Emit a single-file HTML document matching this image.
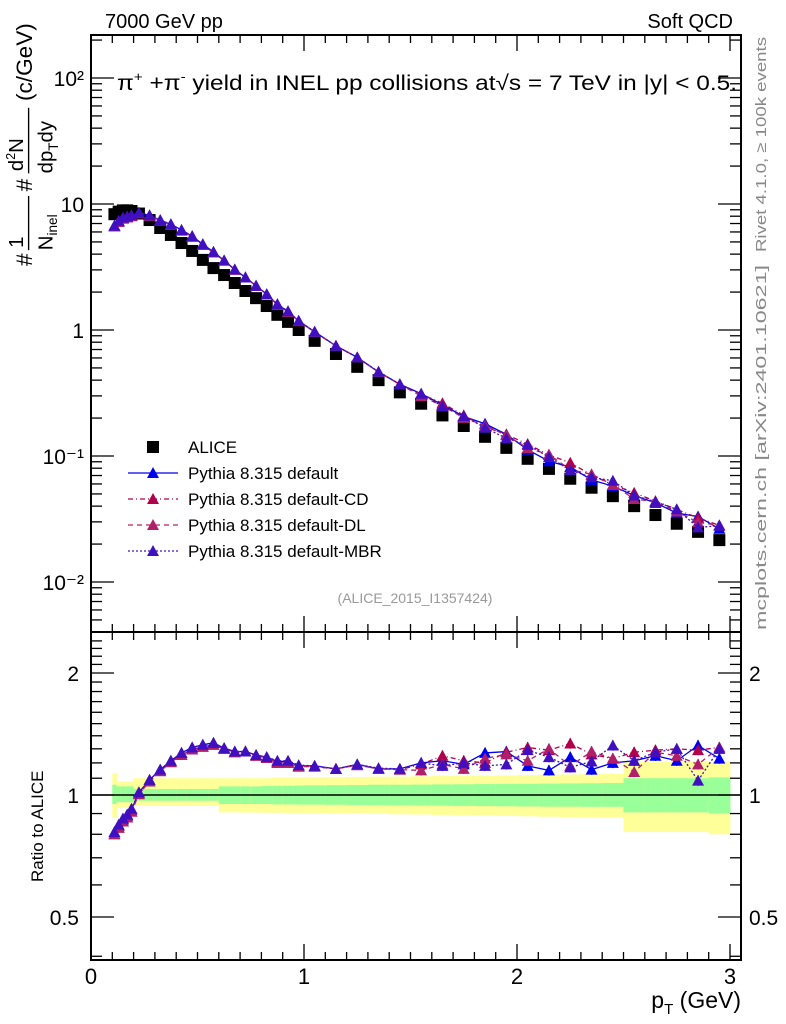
<!DOCTYPE html>
<html><head><meta charset="utf-8"><style>
body{margin:0;background:#fff}
svg{display:block;font-family:"Liberation Sans",sans-serif}
</style></head><body>
<svg id="c" width="786" height="1024" viewBox="0 0 786 1024">
<text x="105" y="28" font-size="20">7000 GeV pp</text>
<text x="733" y="28" font-size="20" text-anchor="end">Soft QCD</text>
<g id="ratioBands"></g>
<g id="plots"></g>
<g id="axes"></g>
<text x="117" y="90" font-size="21" textLength="620" lengthAdjust="spacingAndGlyphs">π<tspan font-size="13" dy="-9">+</tspan><tspan dy="9"> +π</tspan><tspan font-size="13" dy="-9">-</tspan><tspan dy="9"> yield in INEL pp collisions at√s =  7 TeV in |y| &lt; 0.5.</tspan></text>
<text x="415" y="603" font-size="14" fill="#999" text-anchor="middle">(ALICE_2015_I1357424)</text>
<text transform="translate(766,252) rotate(-90)" font-size="15" fill="#888" textLength="215" lengthAdjust="spacingAndGlyphs">Rivet 4.1.0, ≥ 100k events</text>
<text transform="translate(766,630) rotate(-90)" font-size="15" fill="#888" textLength="365" lengthAdjust="spacingAndGlyphs">mcplots.cern.ch [arXiv:2401.10621]</text>
<g transform="translate(32,266) scale(1.13) rotate(-90)" font-size="20">
<text x="0" y="0">#</text><text x="16" y="-8" font-size="18">1</text><line x1="14" y1="-3" x2="62" y2="-3" stroke="#000" stroke-width="1.2"/><text x="14" y="18" font-size="18">N<tspan font-size="12" dy="4">inel</tspan></text>
<text x="66" y="0">#</text><text x="84" y="-8" font-size="18">d<tspan font-size="11" dy="-7">2</tspan><tspan dy="7">N</tspan></text><line x1="82" y1="-3" x2="140" y2="-3" stroke="#000" stroke-width="1.2"/><text x="82" y="18" font-size="18">dp<tspan font-size="12" dy="5">T</tspan><tspan dy="-5">dy</tspan></text>
<text x="146" y="0">(c/GeV)</text></g>
<text transform="translate(43,882) rotate(-90)" font-size="17">Ratio to ALICE</text>
<text x="741" y="1008" font-size="23" text-anchor="end">p<tspan font-size="15" dy="6">T</tspan><tspan dy="-6"> (GeV)</tspan></text>
<g id="legend"></g>
</svg>
<script>
const pt=[0.11,0.13,0.15,0.17,0.19,0.225,0.275,0.325,0.375,0.425,0.475,0.525,0.575,0.625,0.675,0.725,0.775,0.825,0.875,0.925,0.975,1.05,1.15,1.25,1.35,1.45,1.55,1.65,1.75,1.85,1.95,2.05,2.15,2.25,2.35,2.45,2.55,2.65,2.75,2.85,2.95];
const edges=[0.1,0.12,0.14,0.16,0.18,0.2,0.25,0.3,0.35,0.4,0.45,0.5,0.55,0.6,0.65,0.7,0.75,0.8,0.85,0.9,0.95,1.0,1.1,1.2,1.3,1.4,1.5,1.6,1.7,1.8,1.9,2.0,2.1,2.2,2.3,2.4,2.5,2.6,2.7,2.8,2.9,3.0];
const alice=[8.3,8.7,8.9,8.9,8.8,8.4,7.46,6.45,5.68,4.9,4.24,3.6,3.1,2.73,2.36,2.04,1.79,1.55,1.32,1.16,1.0,0.82,0.645,0.51,0.40,0.32,0.26,0.21,0.173,0.142,0.116,0.095,0.079,0.066,0.056,0.048,0.040,0.034,0.029,0.025,0.0215];
const rDefault=[0.81,0.84,0.87,0.89,0.92,1.015,1.09,1.155,1.215,1.27,1.31,1.33,1.345,1.305,1.28,1.28,1.255,1.24,1.21,1.21,1.18,1.18,1.16,1.19,1.16,1.16,1.2,1.215,1.19,1.27,1.28,1.18,1.15,1.24,1.155,1.2,1.215,1.25,1.215,1.325,1.23];
const rCD=[0.8,0.83,0.86,0.88,0.91,1.005,1.08,1.145,1.205,1.255,1.295,1.315,1.33,1.3,1.275,1.28,1.25,1.235,1.2,1.2,1.175,1.175,1.16,1.185,1.16,1.155,1.19,1.25,1.215,1.2,1.275,1.31,1.29,1.34,1.26,1.23,1.275,1.29,1.3,1.29,1.31];
const rDL=[0.8,0.83,0.86,0.88,0.91,1.005,1.08,1.145,1.205,1.255,1.295,1.315,1.33,1.3,1.275,1.28,1.25,1.235,1.2,1.2,1.175,1.175,1.16,1.185,1.16,1.155,1.15,1.19,1.16,1.23,1.26,1.215,1.3,1.18,1.28,1.23,1.14,1.275,1.25,1.19,1.31];
const rMBR=[0.81,0.845,0.875,0.895,0.925,1.015,1.09,1.155,1.215,1.27,1.31,1.33,1.345,1.305,1.28,1.28,1.255,1.24,1.215,1.215,1.185,1.18,1.16,1.19,1.165,1.16,1.2,1.18,1.2,1.18,1.19,1.29,1.24,1.17,1.21,1.325,1.215,1.275,1.3,1.085,1.3];
const yelLo=[0.88,0.93,0.93,0.93,0.93,0.94,0.94,0.94,0.94,0.94,0.94,0.94,0.94,0.906,0.906,0.905,0.905,0.904,0.904,0.903,0.903,0.902,0.9,0.9,0.898,0.896,0.895,0.893,0.891,0.89,0.888,0.886,0.884,0.882,0.88,0.878,0.81,0.81,0.81,0.81,0.8];
const yelHi=[1.13,1.08,1.08,1.08,1.08,1.1,1.1,1.1,1.1,1.1,1.1,1.1,1.1,1.1,1.1,1.1,1.1,1.1,1.105,1.105,1.105,1.106,1.107,1.108,1.11,1.11,1.112,1.114,1.115,1.117,1.118,1.12,1.122,1.124,1.126,1.127,1.21,1.21,1.21,1.21,1.21];
const grnLo=[0.95,0.96,0.96,0.96,0.96,0.968,0.968,0.968,0.968,0.968,0.968,0.968,0.968,0.95,0.95,0.95,0.95,0.95,0.948,0.948,0.947,0.947,0.946,0.945,0.944,0.943,0.942,0.941,0.94,0.939,0.938,0.937,0.936,0.936,0.935,0.935,0.906,0.906,0.906,0.906,0.9];
const grnHi=[1.06,1.05,1.05,1.05,1.05,1.035,1.035,1.035,1.035,1.035,1.035,1.035,1.035,1.05,1.05,1.05,1.05,1.052,1.053,1.054,1.055,1.056,1.057,1.058,1.06,1.06,1.061,1.062,1.063,1.064,1.065,1.066,1.067,1.068,1.069,1.07,1.1,1.1,1.1,1.1,1.105];
const mainTicks=["10²","10","1","10⁻¹","10⁻²"], mainTickVals=[100,10,1,0.1,0.01];
const ratioTicks=["2","1","0.5"], ratioTickVals=[2,1,0.5];
const xTicks=["0","1","2","3"], xTickVals=[0,1,2,3];

const NS="http://www.w3.org/2000/svg";
const L=91,R=741,MT=35,MB=632,RT=632,RB=960;
const X=v=>L+213*v;
const Y=v=>330-126*Math.log10(v);
const RY=v=>795-122*Math.log2(v);
function mk(tag,attrs,parent){const e=document.createElementNS(NS,tag);for(const k in attrs)e.setAttribute(k,attrs[k]);parent.appendChild(e);return e;}
const bands=document.getElementById('ratioBands'),plots=document.getElementById('plots'),axes=document.getElementById('axes'),leg=document.getElementById('legend');

for(let i=0;i<pt.length;i++){
 const x0=X(edges[i]),x1=X(edges[i+1]);
 const y=mk('rect',{x:x0,y:RY(yelHi[i]),width:x1-x0+0.5,height:RY(yelLo[i])-RY(yelHi[i]),fill:'#ffff99'},bands);
 
 
 const g=mk('rect',{x:x0,y:RY(grnHi[i]),width:x1-x0+0.5,height:RY(grnLo[i])-RY(grnHi[i]),fill:'#99ff99'},bands);
 
 
}
const one=mk('line',{x1:L,x2:R,y1:RY(1),y2:RY(1),stroke:'#000','stroke-width':1.5},bands);



for(let i=0;i<pt.length;i++){
 const s=mk('rect',{x:X(pt[i])-6,y:Y(alice[i])-6,width:12,height:12,fill:'#000'},plots);
 
 
}
const series=[
 {n:'default',r:rDefault,c:'#0000ee',d:'',lab:'Pythia 8.315 default'},
 {n:'default-cd',r:rCD,c:'#b0004a',d:'5,3,1,3',lab:'Pythia 8.315 default-CD'},
 {n:'default-dl',r:rDL,c:'#b0206a',d:'5,4',lab:'Pythia 8.315 default-DL'},
 {n:'default-mbr',r:rMBR,c:'#4010c0',d:'2,2',lab:'Pythia 8.315 default-MBR'}];
function tri(x,y,c,p,name){const t=mk('polygon',{points:`${x},${y-6} ${x-6},${y+5} ${x+6},${y+5}`,fill:c},p);}
series.forEach(s=>{
 const mainPts=pt.map((p,i)=>X(p)+','+Y(alice[i]*s.r[i])).join(' ');
 const ml=mk('polyline',{points:mainPts,fill:'none',stroke:s.c,'stroke-width':1.3,'stroke-dasharray':s.d},plots);
 
 
 const ratPts=pt.map((p,i)=>X(p)+','+RY(s.r[i])).join(' ');
 const rl=mk('polyline',{points:ratPts,fill:'none',stroke:s.c,'stroke-width':1.3,'stroke-dasharray':s.d},plots);
 
 
 pt.forEach((p,i)=>{
  tri(X(p),Y(alice[i]*s.r[i]),s.c,plots,s.n+'-point');
  if(p>1.5){const e=mk('line',{x1:X(p),x2:X(p),y1:RY(s.r[i]*1.03),y2:RY(s.r[i]/1.03),stroke:s.c,'stroke-width':1.3},plots);
   
   }
  tri(X(p),RY(s.r[i]),s.c,plots,s.n+'-ratio-point');
 });
});
const ly=[447,473,499,525,551];
const ls=mk('rect',{x:147,y:ly[0]-6,width:12,height:12,fill:'#000'},leg);


const lt=mk('text',{x:188,y:ly[0]+6,'font-size':17},leg);lt.textContent='ALICE';


series.forEach((s,k)=>{
 const y=ly[k+1];
 const l=mk('line',{x1:128,x2:178,y1:y,y2:y,stroke:s.c,'stroke-width':1.3,'stroke-dasharray':s.d},leg);
 
 
 tri(153,y,s.c,leg,'legend-marker');
 const t=mk('text',{x:188,y:y+6,'font-size':17},leg);t.textContent=s.lab;
 
 
});
[[MT,MB],[RT,RB]].forEach(([t,b])=>{const f=mk('rect',{x:L,y:t,width:R-L,height:b-t,fill:'none',stroke:'#000','stroke-width':2},axes);
 
 });
function ln(x1,y1,x2,y2){mk('line',{x1,y1,x2,y2,stroke:'#000','stroke-width':1.3},axes);}
for(let k=0;k<=30;k++){const v=k/10,x=X(v),len=k%10?8:16;
 [MT,RT].forEach(t=>ln(x,t,x,t+len));[MB,RB].forEach(b=>ln(x,b,x,b-len));}
xTicks.forEach((s,i)=>{const t=mk('text',{x:X(xTickVals[i]),y:984,'font-size':22,'text-anchor':'middle'},axes);t.textContent=s;
 
 });
for(let e=-3;e<=2;e++)for(let m=1;m<10;m++){const v=m*Math.pow(10,e),y=Y(v);if(y<MT||y>MB)continue;const len=m==1?23:11;ln(L,y,L+len,y);ln(R,y,R-len,y);}
mainTicks.forEach((s,i)=>{const t=mk('text',{x:84,y:Y(mainTickVals[i])+8,'font-size':21,'text-anchor':'end'},axes);t.textContent=s;
 
 });
for(let v=0.4;v<=2.5;v+=0.1){const y=RY(v);if(y<RT||y>RB)continue;const mj=Math.abs(v-1)<1e-6||Math.abs(v-2)<1e-6||Math.abs(v-0.5)<1e-6;const len=mj?23:11;ln(L,y,L+len,y);ln(R,y,R-len,y);}
ratioTicks.forEach((s,i)=>{const y=RY(ratioTickVals[i])+8;
 const t=mk('text',{x:79,y:y,'font-size':21,'text-anchor':'end'},axes);t.textContent=s;
 
 
 const t2=mk('text',{x:749,y:y,'font-size':21},axes);t2.textContent=s;
 
 });
</script>
</body></html>
